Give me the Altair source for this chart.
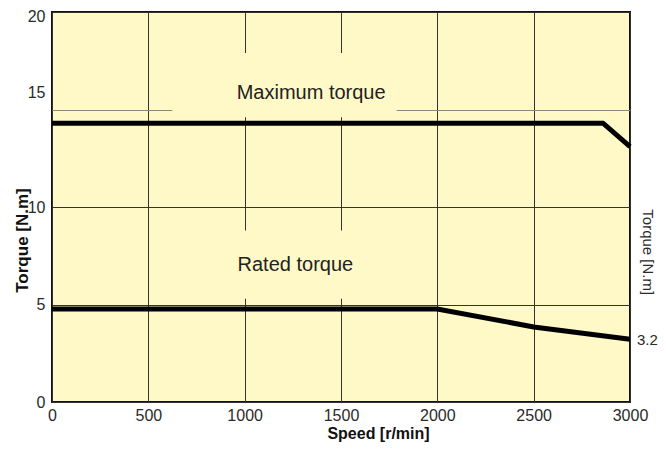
import altair as alt
import pandas as pd

# ---- data ----
speed_ticks = [0, 500, 1000, 1500, 2000, 2500, 3000]
torque_ticks = [0, 5, 10, 15, 20]

max_speed = [0, 2860, 3000]
max_torque = [14.3, 14.3, 13.1]

rated_speed = [0, 2000, 2500, 3000]
rated_torque = [4.77, 4.77, 3.85, 3.22]

label_text = ["Maximum torque", "Rated torque"]
label_speed = [1345, 1263]
label_torque = [15.56, 6.72]

# areas behind the annotations where the grid is interrupted
mask_speed = [624, 620]
mask_speed2 = [1789, 1800]
mask_torque = [14.6, 5.3]
mask_torque2 = [17.9, 8.8]

end_value = [3.2]
right_title = ["Torque [N.m]"]
right_title_pos = [7.68]

BG = "#FFF9C7"
FONT = "Liberation Sans"

lines_df = pd.DataFrame({
    "speed": max_speed + rated_speed,
    "torque": max_torque + rated_torque,
    "series": ["Maximum"] * len(max_speed) + ["Rated"] * len(rated_speed),
})
labels_df = pd.DataFrame({"speed": label_speed, "torque": label_torque, "text": label_text})
mask_df = pd.DataFrame({"speed": mask_speed, "speed2": mask_speed2,
                        "torque": mask_torque, "torque2": mask_torque2})
end_df = pd.DataFrame({"speed": [3000], "torque": end_value,
                       "text": [str(v) for v in end_value]})
rt_df = pd.DataFrame({"speed": [3000], "torque": right_title_pos, "text": right_title})

xaxis = alt.Axis(
    values=speed_ticks, grid=True, ticks=False, domain=False, labelFlush=False,
    format="d",
    labelFont=FONT, labelFontSize=16, labelColor="#2a2a2a", labelPadding=5,
    gridColor="#333333", gridWidth=1,
    title="Speed [r/min]", titleFont=FONT, titleFontSize=16, titleFontWeight="bold",
    titleColor="#111111", titleX=326, titleY=36, titleBaseline="alphabetic",
    titleAlign="center",
)
yaxis = alt.Axis(
    values=torque_ticks, grid=True, ticks=False, domain=False,
    labelFont=FONT, labelFontSize=16, labelColor="#2a2a2a", labelPadding=7,
    labelBaseline="middle",
    labelOffset={"condition": [{"test": "datum.value === 15", "value": -17},
                               {"test": "datum.value === 20", "value": 4}],
                 "value": 0},
    gridColor={"condition": {"test": "datum.value === 15", "value": "#8a8a78"}, "value": "#333333"},
    gridWidth=1,
    title="Torque [N.m]", titleFont=FONT, titleFontSize=17, titleFontWeight="bold",
    titleColor="#111111", titleAngle=-90, titleX=-25, titleY=228,
    titleBaseline="alphabetic", titleAlign="center",
)

xs = alt.Scale(domain=[0, 3000], nice=False, zero=False)
ys = alt.Scale(domain=[0, 20], nice=False, zero=False)
X = alt.X("speed:Q", scale=xs, axis=xaxis)
Y = alt.Y("torque:Q", scale=ys, axis=yaxis)

mask = alt.Chart(mask_df).mark_rect(fill=BG, stroke=None).encode(
    x=X, x2="speed2:Q", y=Y, y2="torque2:Q"
)
lines = alt.Chart(lines_df).mark_line(color="black", strokeWidth=5).encode(
    x=X, y=Y, detail="series:N"
)
labels = alt.Chart(labels_df).mark_text(
    font=FONT, fontSize=20, color="#222222", align="center", baseline="alphabetic"
).encode(x=X, y=Y, text="text:N")
end_label = alt.Chart(end_df).mark_text(
    font=FONT, fontSize=15, color="#2a2a2a", align="left", baseline="middle", dx=7
).encode(x=X, y=Y, text="text:N")
rt = alt.Chart(rt_df).mark_text(
    font=FONT, fontSize=15, color="#2a2a2a", align="center", baseline="middle",
    angle=90, dy=-18
).encode(x=X, y=Y, text="text:N")

chart = alt.layer(mask, lines, labels, end_label, rt).properties(
    width=578, height=390,
    padding={"left": 44, "top": 4, "right": 28, "bottom": 42},
    autosize=alt.AutoSizeParams(type="none"),
).configure_view(fill=BG, stroke="#111111", strokeWidth=2)

chart.save("out.html", embed_options={"renderer": "svg", "actions": False})
